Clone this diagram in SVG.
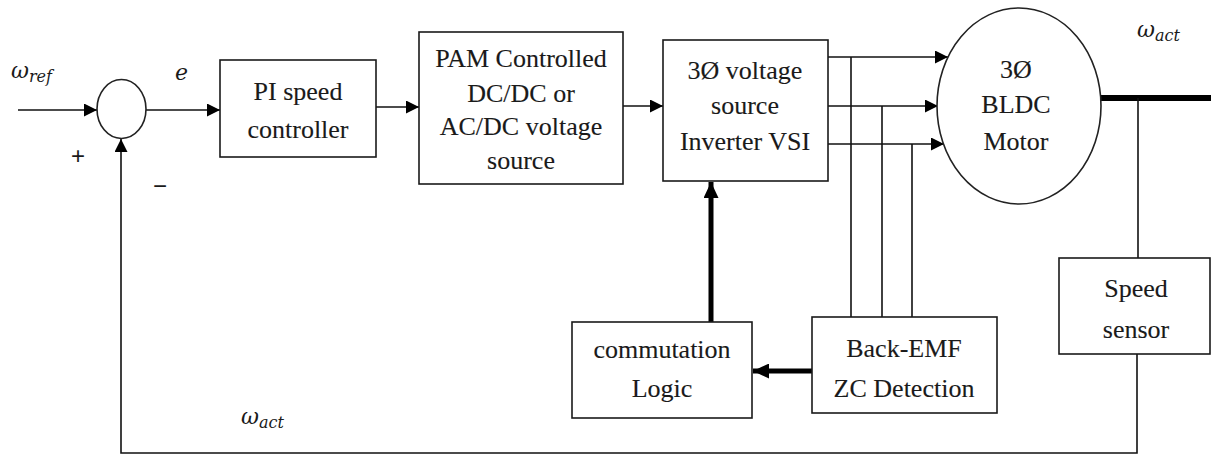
<svg xmlns="http://www.w3.org/2000/svg" width="1211" height="455" viewBox="0 0 1211 455">
  <defs>
    <style>
      .box { fill: #ffffff; stroke: #1a1a1a; stroke-width: 1.6; }
      .wire { fill: none; stroke: #111111; stroke-width: 1.6; }
      .bus { fill: none; stroke: #000000; stroke-width: 5; }
      .lbl { font-family: Liberation Serif, serif; font-size: 26px; fill: #1a1a1a; stroke: #1a1a1a; stroke-width: 0.12; text-anchor: middle; }
      .math { font-family: DejaVu Serif, serif; font-style: italic; font-size: 22px; fill: #1a1a1a; }
      .sub { font-size: 16px; }
      .sign { font-family: Liberation Sans, sans-serif; font-size: 24px; fill: #1a1a1a; text-anchor: middle; }
    </style>
    <marker id="arr" markerUnits="userSpaceOnUse" markerWidth="13" markerHeight="13" refX="13" refY="6.5" orient="auto">
      <path d="M0,0 L13,6.5 L0,13 z" fill="#000"/>
    </marker>
    <marker id="arrBold" markerUnits="userSpaceOnUse" markerWidth="16" markerHeight="15" refX="16" refY="7.5" orient="auto">
      <path d="M0,0 L16,7.5 L0,15 z" fill="#000"/>
    </marker>
  </defs>

  <!-- connectors -->
  <g id="connectors">
    <!-- reference input -->
    <line class="wire" x1="18" y1="110" x2="97" y2="110" marker-end="url(#arr)"/>
    <!-- error to PI -->
    <line class="wire" x1="146" y1="110" x2="220" y2="110" marker-end="url(#arr)"/>
    <!-- PI to PAM -->
    <line class="wire" x1="376" y1="107" x2="419" y2="107" marker-end="url(#arr)"/>
    <!-- PAM to VSI -->
    <line class="wire" x1="623" y1="106" x2="663" y2="106" marker-end="url(#arr)"/>
    <!-- three phases to motor -->
    <line class="wire" x1="828" y1="57" x2="948" y2="57" marker-end="url(#arr)"/>
    <line class="wire" x1="828" y1="106" x2="938" y2="106" marker-end="url(#arr)"/>
    <line class="wire" x1="828" y1="144" x2="944" y2="144" marker-end="url(#arr)"/>
    <!-- phase taps to back-EMF detector -->
    <line class="wire" x1="851" y1="57" x2="851" y2="317"/>
    <line class="wire" x1="882" y1="106" x2="882" y2="317"/>
    <line class="wire" x1="912" y1="144" x2="912" y2="317"/>
    <!-- back-EMF to commutation logic -->
    <line class="bus" x1="812" y1="371" x2="753" y2="371" marker-end="url(#arrBold)"/>
    <!-- commutation logic to VSI -->
    <line class="bus" x1="711" y1="322" x2="711" y2="182" marker-end="url(#arrBold)"/>
    <!-- motor shaft -->
    <line x1="1101" y1="98" x2="1211" y2="98" stroke="#000" stroke-width="6"/>
    <!-- shaft to speed sensor -->
    <line class="wire" x1="1138" y1="98" x2="1138" y2="258"/>
    <!-- speed feedback -->
    <polyline class="wire" points="1137,354 1137,453 121,453 121,139" marker-end="url(#arr)"/>
  </g>

  <!-- summing junction -->
  <g id="sum">
    <ellipse cx="121.5" cy="109" rx="24.5" ry="29.5" fill="#fff" stroke="#222" stroke-width="1.6"/>
    <text class="sign" x="78" y="164">+</text>
    <text class="sign" x="160" y="194">−</text>
  </g>

  <g id="pi">
    <rect class="box" x="220" y="60" width="156" height="97"/>
    <text class="lbl" x="298" y="100">PI speed</text>
    <text class="lbl" x="298" y="138">controller</text>
  </g>

  <g id="pam">
    <rect class="box" x="419" y="32" width="204" height="152"/>
    <text class="lbl" x="521" y="67">PAM Controlled</text>
    <text class="lbl" x="521" y="102">DC/DC or</text>
    <text class="lbl" x="521" y="135">AC/DC voltage</text>
    <text class="lbl" x="521" y="169">source</text>
  </g>

  <g id="vsi">
    <rect class="box" x="663" y="40" width="165" height="141"/>
    <text class="lbl" x="745" y="79">3Ø voltage</text>
    <text class="lbl" x="745" y="114">source</text>
    <text class="lbl" x="745" y="150">Inverter VSI</text>
  </g>

  <g id="motor">
    <ellipse cx="1019" cy="106" rx="82" ry="98" fill="#fff" stroke="#222" stroke-width="1.6"/>
    <text class="lbl" x="1016" y="78">3Ø</text>
    <text class="lbl" x="1016" y="113">BLDC</text>
    <text class="lbl" x="1016" y="150">Motor</text>
  </g>

  <g id="speed-sensor">
    <rect class="box" x="1059" y="258" width="151" height="96"/>
    <text class="lbl" x="1136" y="297">Speed</text>
    <text class="lbl" x="1136" y="338">sensor</text>
  </g>

  <g id="commutation">
    <rect class="box" x="572" y="322" width="180" height="96"/>
    <text class="lbl" x="662" y="358">commutation</text>
    <text class="lbl" x="662" y="397">Logic</text>
  </g>

  <g id="back-emf">
    <rect class="box" x="812" y="317" width="185" height="96"/>
    <text class="lbl" x="904" y="357">Back-EMF</text>
    <text class="lbl" x="904" y="397">ZC Detection</text>
  </g>

  <!-- signal labels -->
  <g id="labels">
    <text class="math" x="11" y="78">ω<tspan class="sub" dy="4">ref</tspan></text>
    <text class="math" x="175" y="80">e</text>
    <text class="math" x="1137" y="37">ω<tspan class="sub" dy="4">act</tspan></text>
    <text class="math" x="241" y="424">ω<tspan class="sub" dy="4">act</tspan></text>
  </g>
</svg>
